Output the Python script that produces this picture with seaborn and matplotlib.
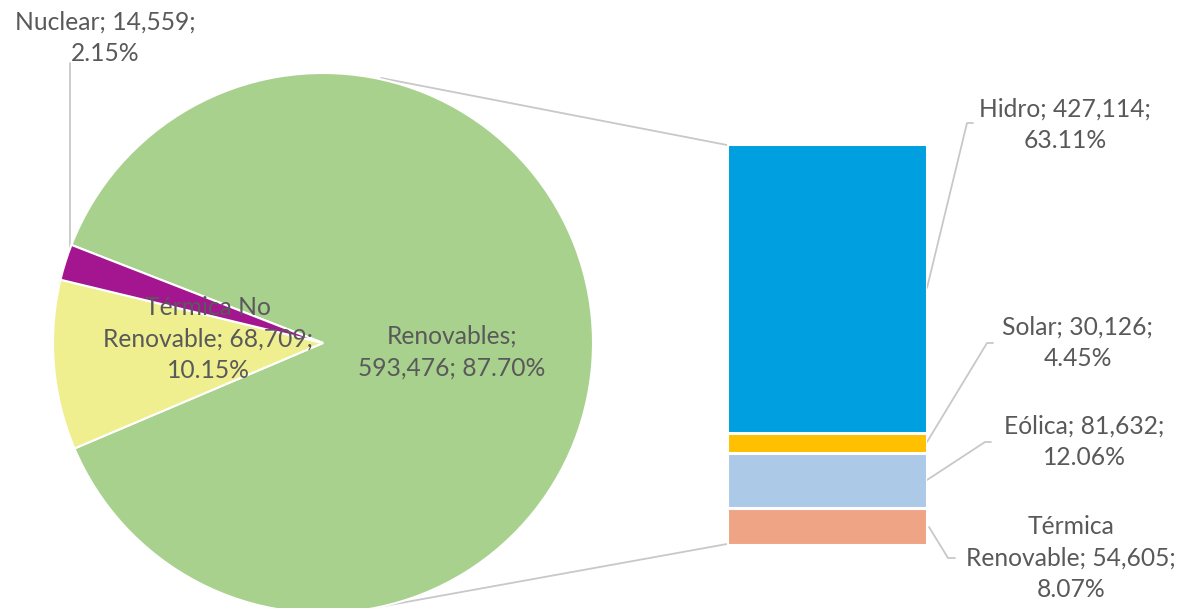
import matplotlib
matplotlib.use("Agg")
import matplotlib.pyplot as plt
import seaborn as sns
import pandas as pd

# ---- data ----
pie_names = ["Renovables", "Térmica No Renovable", "Nuclear"]
pie_values = [593476, 68709, 14559]
pie_colors = ["#A9D18E", "#EFEF8F", "#A3168F"]

bar_names = ["Hidro", "Solar", "Eólica", "Térmica Renovable"]
bar_values = [427114, 30126, 81632, 54605]
bar_colors = ["#009FDF", "#FFC000", "#ADC9E8", "#F0A486"]

total = sum(pie_values)
pie_pct = [v / total * 100 for v in pie_values]
bar_pct = [v / total * 100 for v in bar_values]

sns.set_theme(style="white")
plt.rcParams["font.family"] = ["Lato", "DejaVu Sans"]

W, H = 1189, 608
TXT = "#595959"
LINE = "#C8C8C8"
FS = 17.7
LS = 1.45

fig = plt.figure(figsize=(W / 100, H / 100), dpi=100)
ax = fig.add_axes([0, 0, 1, 1])


def P(x, y):
    return (x, H - y)


# ---- pie ----
ax.pie(pie_values, colors=pie_colors, startangle=158.7, counterclock=False,
       center=P(323, 343), radius=270,
       wedgeprops=dict(edgecolor="white", linewidth=1.5))
ax.set_xlim(0, W)
ax.set_ylim(0, H)
ax.set_aspect("equal")
ax.axis("off")

# ---- connectors pie -> bar ----
for a, b in [((381, 78), (727, 145)), ((362, 610), (727, 544))]:
    ax.plot(*zip(P(*a), P(*b)), color=LINE, lw=1.3, zorder=0)

# ---- stacked bar (bottom -> top: Térmica Ren., Eólica, Solar, Hidro) ----
bax = fig.add_axes([727 / W, 1 - 545 / H, 200 / W, 401 / H])
stack_order = ["Térmica Renovable", "Eólica", "Solar", "Hidro"]
vals = dict(zip(bar_names, bar_values))
cols = dict(zip(bar_names, bar_colors))
cum = []
run = 0
for n in stack_order:
    run += vals[n]
    cum.append((n, run))
for n, c in reversed(cum):
    df = pd.DataFrame({"g": ["Renovables"], "v": [c]})
    sns.barplot(data=df, x="g", y="v", color=cols[n], saturation=1,
                width=1.0, edgecolor="white", linewidth=2.2, ax=bax)
bax.set_xlim(-0.5, 0.5)
bax.set_ylim(0, sum(bar_values))
bax.axis("off")

# ---- labels ----
ax.text(*P(452, 352), f"{pie_names[0]};\n{pie_values[0]:,}; {pie_pct[0]:.2f}%",
        ha="center", va="center", fontsize=FS, color=TXT, linespacing=LS)
ax.text(*P(208, 339), f"Térmica No\nRenovable; {pie_values[1]:,};\n{pie_pct[1]:.2f}%",
        ha="center", va="center", fontsize=FS, color=TXT, linespacing=LS)
ax.text(*P(105, 38), f"{pie_names[2]}; {pie_values[2]:,};\n{pie_pct[2]:.2f}%",
        ha="center", va="center", fontsize=FS, color=TXT, linespacing=LS)
ax.plot(*zip(P(70, 63), P(70, 262)), color=LINE, lw=1.3, zorder=0)

bar_label_pos = [(1065, 125), (1078, 343), (1084, 442), (1071, 558)]
bar_label_txt = [
    f"{bar_names[0]}; {bar_values[0]:,};\n{bar_pct[0]:.2f}%",
    f"{bar_names[1]}; {bar_values[1]:,};\n{bar_pct[1]:.2f}%",
    f"{bar_names[2]}; {bar_values[2]:,};\n{bar_pct[2]:.2f}%",
    f"Térmica\nRenovable; {bar_values[3]:,};\n{bar_pct[3]:.2f}%",
]
for (x, y), t in zip(bar_label_pos, bar_label_txt):
    ax.text(*P(x, y), t, ha="center", va="center", fontsize=FS, color=TXT,
            linespacing=LS)

leaders = [
    [(927, 288), (967, 123), (973, 123)],
    [(927, 442), (987, 343), (993, 343)],
    [(927, 480), (985, 442), (991, 442)],
    [(929, 527), (948, 558), (955, 558)],
]
for pts in leaders:
    xs, ys = zip(*[P(*p) for p in pts])
    ax.plot(xs, ys, color=LINE, lw=1.3, zorder=0)

fig.savefig("out.png", dpi=100, facecolor="white")
